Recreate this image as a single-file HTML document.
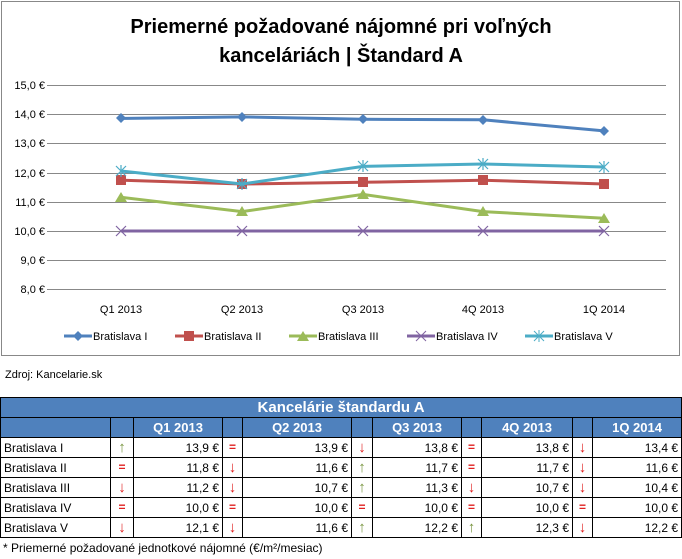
<!DOCTYPE html>
<html><head><meta charset="utf-8"><style>
body{margin:0;width:682px;height:559px;background:#fff;font-family:"Liberation Sans",sans-serif;position:relative;overflow:hidden}
.t{position:absolute;font-size:12px;color:#000}
table{position:absolute;left:0;top:397px;border-collapse:collapse;table-layout:fixed;width:681px;font-size:12px}
td{border:1px solid #000;height:19px;padding:0 3px;white-space:nowrap;overflow:hidden}
.h td{background:#4f81bd;color:#fff;font-weight:bold;text-align:center;font-size:13px}
.v{text-align:right}
.a{text-align:center;font-weight:bold;padding:0;font-size:15px;line-height:15px}
.up{color:#77933c}.dn{color:#e02020}.eq{color:#e02020;font-size:12px}
</style></head><body>
<svg width="682" height="395" style="position:absolute;left:0;top:0" font-family="Liberation Sans,sans-serif">
<rect x="1.5" y="1.5" width="678" height="354" fill="#fff" stroke="#888"/>
<text x="341" y="33" text-anchor="middle" font-size="20" font-weight="bold">Priemerné požadované nájomné pri voľných</text>
<text x="341" y="62" text-anchor="middle" font-size="20" font-weight="bold">kanceláriách | Štandard A</text>
<g stroke="#888" stroke-width="1">
<line x1="47" x2="666" y1="85.5" y2="85.5"/><line x1="47" x2="666" y1="114.5" y2="114.5"/><line x1="47" x2="666" y1="143.5" y2="143.5"/><line x1="47" x2="666" y1="173.5" y2="173.5"/><line x1="47" x2="666" y1="202.5" y2="202.5"/><line x1="47" x2="666" y1="231.5" y2="231.5"/><line x1="47" x2="666" y1="260.5" y2="260.5"/><line x1="47" x2="666" y1="289.5" y2="289.5"/>
</g>
<g font-size="11" text-anchor="end">
<text x="45" y="89">15,0 €</text><text x="45" y="118">14,0 €</text><text x="45" y="147">13,0 €</text><text x="45" y="177">12,0 €</text><text x="45" y="206">11,0 €</text><text x="45" y="235">10,0 €</text><text x="45" y="264">9,0 €</text><text x="45" y="293">8,0 €</text>
</g>
<g font-size="11" text-anchor="middle">
<text x="121" y="313">Q1 2013</text><text x="242" y="313">Q2 2013</text><text x="363" y="313">Q3 2013</text><text x="483" y="313">4Q 2013</text><text x="604" y="313">1Q 2014</text>
</g>
<polyline fill="none" stroke="#4f81bd" stroke-width="3" points="121,118.4 242,116.9 363,119.3 483,119.8 604,130.9"/>
<g fill="#4f81bd"><path d="M121,113l5,5-5,5-5-5z"/><path d="M242,112l5,5-5,5-5-5z"/><path d="M363,114l5,5-5,5-5-5z"/><path d="M483,115l5,5-5,5-5-5z"/><path d="M604,126l5,5-5,5-5-5z"/></g>
<polyline fill="none" stroke="#c0504d" stroke-width="3" points="121,180.2 242,184 363,182.3 483,180.2 604,184"/>
<g fill="#c0504d"><rect x="116" y="175" width="10" height="10"/><rect x="237" y="179" width="10" height="10"/><rect x="358" y="177" width="10" height="10"/><rect x="478" y="175" width="10" height="10"/><rect x="599" y="179" width="10" height="10"/></g>
<polyline fill="none" stroke="#9bbb59" stroke-width="3" points="121,197.3 242,211.6 363,194.4 483,211.6 604,218.3"/>
<g fill="#9bbb59"><path d="M121,192l6,10h-12z"/><path d="M242,206l6,10h-12z"/><path d="M363,189l6,10h-12z"/><path d="M483,206l6,10h-12z"/><path d="M604,213l6,10h-12z"/></g>
<polyline fill="none" stroke="#8064a2" stroke-width="3" points="121,231 242,231 363,231 483,231 604,231"/>
<g stroke="#8064a2" stroke-width="1.2"><path d="M116,226l10,10M126,226l-10,10M237,226l10,10M247,226l-10,10M358,226l10,10M368,226l-10,10M478,226l10,10M488,226l-10,10M599,226l10,10M609,226l-10,10"/></g>
<polyline fill="none" stroke="#4bacc6" stroke-width="3" points="121,171 242,184 363,166.4 483,164 604,167"/>
<g stroke="#4bacc6" stroke-width="1.2"><path d="M116,166l10,10M126,166l-10,10M121,165v12M237,179l10,10M247,179l-10,10M242,178v12M358,161l10,10M368,161l-10,10M363,160v12M478,159l10,10M488,159l-10,10M483,158v12M599,162l10,10M609,162l-10,10M604,161v12"/></g>
<g font-size="11">
<line x1="64" x2="92" y1="336" y2="336" stroke="#4f81bd" stroke-width="3"/><path d="M78,331l5,5-5,5-5-5z" fill="#4f81bd"/><text x="93" y="340">Bratislava I</text>
<line x1="175" x2="203" y1="336" y2="336" stroke="#c0504d" stroke-width="3"/><rect x="184" y="331" width="10" height="10" fill="#c0504d"/><text x="204" y="340">Bratislava II</text>
<line x1="289" x2="317" y1="336" y2="336" stroke="#9bbb59" stroke-width="3"/><path d="M303,331l6,10h-12z" fill="#9bbb59"/><text x="318" y="340">Bratislava III</text>
<line x1="407" x2="435" y1="336" y2="336" stroke="#8064a2" stroke-width="3"/><path d="M416,331l10,10M426,331l-10,10" stroke="#8064a2"/><text x="436" y="340">Bratislava IV</text>
<line x1="525" x2="553" y1="336" y2="336" stroke="#4bacc6" stroke-width="3"/><path d="M534,331l10,10M544,331l-10,10M539,330v12" stroke="#4bacc6"/><text x="554" y="340">Bratislava V</text>
</g>
<text x="5" y="378" font-size="11">Zdroj: Kancelarie.sk</text>
</svg>
<table>
<colgroup><col style="width:110px"><col style="width:23px"><col style="width:89px"><col style="width:20px"><col style="width:109px"><col style="width:21px"><col style="width:89px"><col style="width:20px"><col style="width:91px"><col style="width:20px"><col style="width:89px"></colgroup>
<tr class="h"><td colspan="11" style="font-size:15px;height:19px">Kancelárie štandardu A</td></tr>
<tr class="h"><td></td><td></td><td>Q1 2013</td><td></td><td>Q2 2013</td><td></td><td>Q3 2013</td><td></td><td>4Q 2013</td><td></td><td>1Q 2014</td></tr>
<tr><td>Bratislava I</td><td class="a up">↑</td><td class="v">13,9 €</td><td class="a eq">=</td><td class="v">13,9 €</td><td class="a dn">↓</td><td class="v">13,8 €</td><td class="a eq">=</td><td class="v">13,8 €</td><td class="a dn">↓</td><td class="v">13,4 €</td></tr>
<tr><td>Bratislava II</td><td class="a eq">=</td><td class="v">11,8 €</td><td class="a dn">↓</td><td class="v">11,6 €</td><td class="a up">↑</td><td class="v">11,7 €</td><td class="a eq">=</td><td class="v">11,7 €</td><td class="a dn">↓</td><td class="v">11,6 €</td></tr>
<tr><td>Bratislava III</td><td class="a dn">↓</td><td class="v">11,2 €</td><td class="a dn">↓</td><td class="v">10,7 €</td><td class="a up">↑</td><td class="v">11,3 €</td><td class="a dn">↓</td><td class="v">10,7 €</td><td class="a dn">↓</td><td class="v">10,4 €</td></tr>
<tr><td>Bratislava IV</td><td class="a eq">=</td><td class="v">10,0 €</td><td class="a eq">=</td><td class="v">10,0 €</td><td class="a eq">=</td><td class="v">10,0 €</td><td class="a eq">=</td><td class="v">10,0 €</td><td class="a eq">=</td><td class="v">10,0 €</td></tr>
<tr><td>Bratislava V</td><td class="a dn">↓</td><td class="v">12,1 €</td><td class="a dn">↓</td><td class="v">11,6 €</td><td class="a up">↑</td><td class="v">12,2 €</td><td class="a up">↑</td><td class="v">12,3 €</td><td class="a dn">↓</td><td class="v">12,2 €</td></tr>
</table>
<div class="t" style="left:3px;top:541px">* Priemerné požadované jednotkové nájomné (€/m²/mesiac)</div>
</body></html>
